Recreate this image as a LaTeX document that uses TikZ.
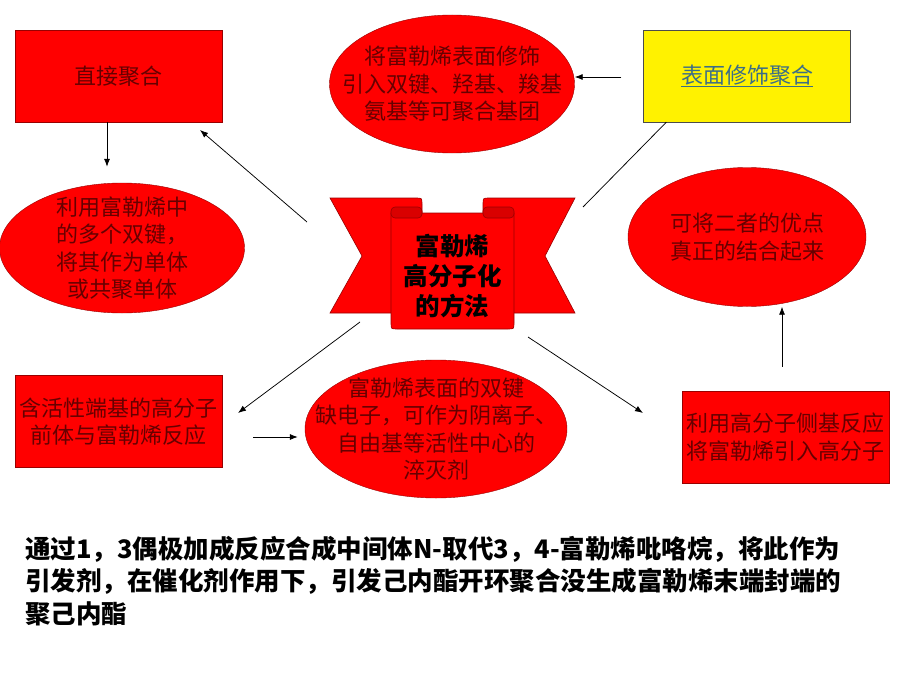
\documentclass[tikz,border=0pt]{standalone}
\usepackage{fontspec}
\newfontfamily\cjk{Noto Sans CJK SC}
\usetikzlibrary{shapes.geometric,arrows.meta,positioning,calc}

\definecolor{linkblue}{RGB}{60,110,135}

\begin{document}
\begin{tikzpicture}[x=1pt,y=-1pt,
    box/.style={draw=red!60!black, fill=red, minimum width=207, minimum height=92, inner sep=0pt},
    oval/.style={draw=red!60!black, fill=red, ellipse, inner sep=0pt},
    boxtext/.style={align=center, text=red!40!black, font=\cjk\fontsize{22}{27.5}\selectfont},
    ribbon/.style={draw=red!60!black, fill=red, line width=0.6pt},
    arr/.style={-{Latex[length=8pt,width=6pt]}, line width=0.75pt}]
    \useasboundingbox (0,0) rectangle (920,690);

    % left column
    \node[box, boxtext] (direct) at (118.5,76) {直接聚合};
    \node[oval, minimum width=245, minimum height=130] (mono) at (122,248) {};
    \node[boxtext] at (mono) {利用富勒烯中\\的多个双键，\\将其作为单体\\或共聚单体};
    \node[box, boxtext] (endgrp) at (118.5,421.5) {含活性端基的高分子\\前体与富勒烯反应};

    % top and middle
    \node[oval, minimum width=245, minimum height=138] (modif) at (452,84) {};
    \node[boxtext] at (modif) {将富勒烯表面修饰\\引入双键、羟基、羧基\\氨基等可聚合基团};
    \node[oval, minimum width=262, minimum height=138] (quench) at (436,429) {};
    \node[boxtext] at (quench) {富勒烯表面的双键\\缺电子，可作为阴离子、\\自由基等活性中心的\\淬灭剂};

    % right column
    \node[box, draw=black!70, fill=yellow, font=\cjk\fontsize{22}{27.5}\selectfont, text=linkblue] (surf) at (747,76) {\underline{表面修饰聚合}};
    \node[oval, minimum width=238, minimum height=139] (merit) at (747,237) {};
    \node[boxtext] at (merit) {可将二者的优点\\真正的结合起来};
    \node[box, boxtext] (side) at (785.5,437) {利用高分子侧基反应\\将富勒烯引入高分子};

    % banner in the centre
    \draw[ribbon] (330,198) -- (416,198) .. controls (422,198) .. (422,204) -- (422,313) -- (330,313) -- (362,256) -- cycle;
    \draw[ribbon] (575,198) -- (489,198) .. controls (483,198) .. (483,204) -- (483,313) -- (575,313) -- (545,256) -- cycle;
    \draw[ribbon] (391,213) -- (391,323) .. controls (391,329) .. (397,329) -- (508,329) .. controls (514,329) .. (514,323) -- (514,213) -- cycle;
    \draw[ribbon, fill=red!85!black, rounded corners=4pt] (391,207) rectangle (422,218);
    \draw[ribbon, fill=red!85!black, rounded corners=4pt] (483,207) rectangle (514,218);
    \node[align=center, font=\cjk\bfseries\fontsize{24.5}{30}\selectfont] (core) at (452.5,276) {富勒烯\\高分子化\\的方法};

    % free ends of the slanted connectors
    \coordinate (toDirect) at (200,130);
    \coordinate (fromLeft) at (307,222);
    \coordinate (fromRight) at (583,207);
    \coordinate (fromLow) at (360,322);
    \coordinate (toEnd) at (238,413);
    \coordinate (fromLowR) at (528,337);
    \coordinate (toSide) at (643,413);

    \draw[arr, shorten >=16] ([xshift=-11.5]direct.south) -- ([xshift=-11.5]direct.south |- mono.north);
    \draw[arr] (fromLeft) -- (toDirect);
    \draw[arr, shorten <=22] ([yshift=-1]surf.west) -- ([yshift=-1]surf.west -| modif.east);
    \draw[line width=0.75pt] ([xshift=23]surf.south west) -- (fromRight);
    \draw[arr, shorten <=24] ([xshift=-3.5]side.north) -- ([xshift=-3.5]side.north |- merit.south);
    \draw[arr] (fromLowR) -- (toSide);
    \draw[arr] (fromLow) -- (toEnd);
    \draw[arr, shorten <=31, shorten >=7] ([yshift=-15.5]endgrp.east) -- ([yshift=-15.5]endgrp.east -| quench.west);

    % note below the diagram
    \node[anchor=north west, inner sep=0pt, align=left, font=\cjk\bfseries\fontsize{25.5}{32.5}\selectfont] (note) at (25,536)
        {通过1，3偶极加成反应合成中间体N-取代3，4-富勒烯吡咯烷，将此作为\\引发剂，在催化剂作用下，引发己内酯开环聚合没生成富勒烯末端封端的\\聚己内酯};
\end{tikzpicture}
\end{document}
